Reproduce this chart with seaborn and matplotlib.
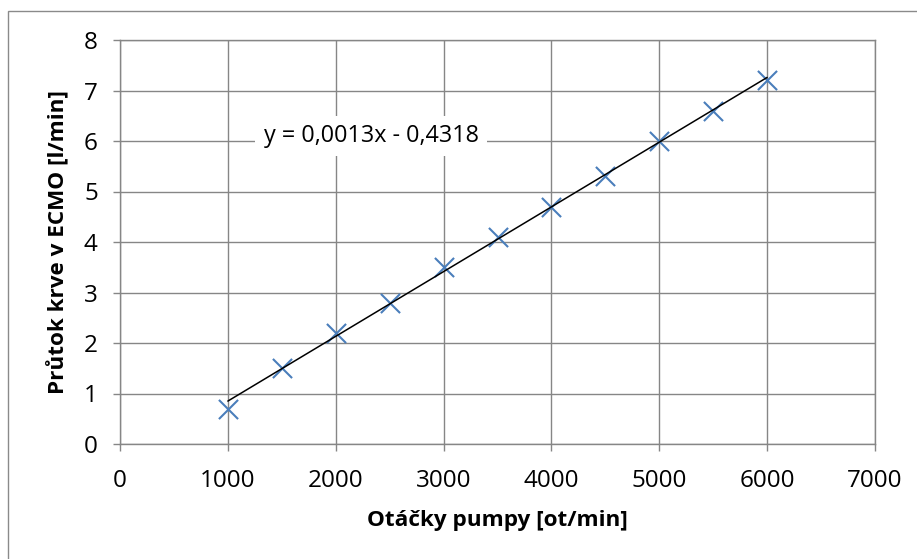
import matplotlib
matplotlib.use("Agg")
import matplotlib.pyplot as plt
from matplotlib.patches import Rectangle
import numpy as np
import pandas as pd
import seaborn as sns

# Pump speed vs. blood flow through the ECMO circuit
speed_rpm = [1000, 1500, 2000, 2500, 3000, 3500, 4000, 4500, 5000, 5500, 6000]
flow_lpm = [0.7, 1.5, 2.2, 2.8, 3.5, 4.1, 4.7, 5.3, 6.0, 6.6, 7.2]

x_ticks = [0, 1000, 2000, 3000, 4000, 5000, 6000, 7000]
y_ticks = [0, 1, 2, 3, 4, 5, 6, 7, 8]

x_label = "Otáčky pumpy [ot/min]"
y_label = "Průtok krve v ECMO [l/min]"

df = pd.DataFrame({"speed": speed_rpm, "flow": flow_lpm})

# Linear trend used for the equation label
slope, intercept = np.polyfit(df["speed"], df["flow"], 1)
sign = "-" if intercept < 0 else "+"
equation = f"y = {slope:.4f}x {sign} {abs(intercept):.4f}".replace(".", ",")

sns.set_theme(style="whitegrid")
plt.rcParams["font.family"] = ["Open Sans", "DejaVu Sans"]

grid_grey = "#868686"
marker_blue = "#4A7EBB"

fig = plt.figure(figsize=(9.17, 5.59), dpi=100)
ax = fig.add_axes([120 / 917, 1 - 444 / 559, 755 / 917, 404 / 559])

sns.regplot(
    data=df, x="speed", y="flow", ax=ax, ci=None, marker="x",
    scatter_kws=dict(s=190, color=marker_blue, linewidths=1.5, alpha=1, zorder=3),
    line_kws=dict(color="black", lw=1.1, zorder=4),
)

ax.set_xlim(x_ticks[0], x_ticks[-1])
ax.set_ylim(y_ticks[0], y_ticks[-1])
ax.set_xticks(x_ticks)
ax.set_yticks(y_ticks)
ax.set_xticklabels([str(v) for v in x_ticks])
ax.set_yticklabels([str(v) for v in y_ticks])

ax.grid(True, color=grid_grey, lw=1.0)
ax.set_axisbelow(True)
for side in ["left", "bottom", "top", "right"]:
    ax.spines[side].set_visible(True)
    ax.spines[side].set_color(grid_grey)
    ax.spines[side].set_linewidth(1.0)

ax.tick_params(axis="both", which="major", direction="out", length=5,
               width=1.0, color=grid_grey, labelsize=17.5, labelcolor="black")
ax.tick_params(axis="x", pad=13, bottom=True)
ax.tick_params(axis="y", pad=11, left=True)

ax.set_xlabel(x_label, fontsize=16.2, fontweight="bold", color="black", labelpad=12)
ax.set_ylabel(y_label, fontsize=16.2, fontweight="bold", color="black", labelpad=10)

ax.text(2330, 6.1, equation, fontsize=16.8, color="black", ha="center", va="center",
        bbox=dict(facecolor="white", edgecolor="none", pad=6), zorder=5)

# Chart-area border
fig.patches.append(Rectangle((8 / 917, -0.1), 1.2, 1 - 11 / 559 + 0.1,
                             transform=fig.transFigure, fill=False,
                             edgecolor="#8a8a8a", lw=1.0, zorder=0))

fig.savefig("out.png", dpi=100, facecolor="white")
